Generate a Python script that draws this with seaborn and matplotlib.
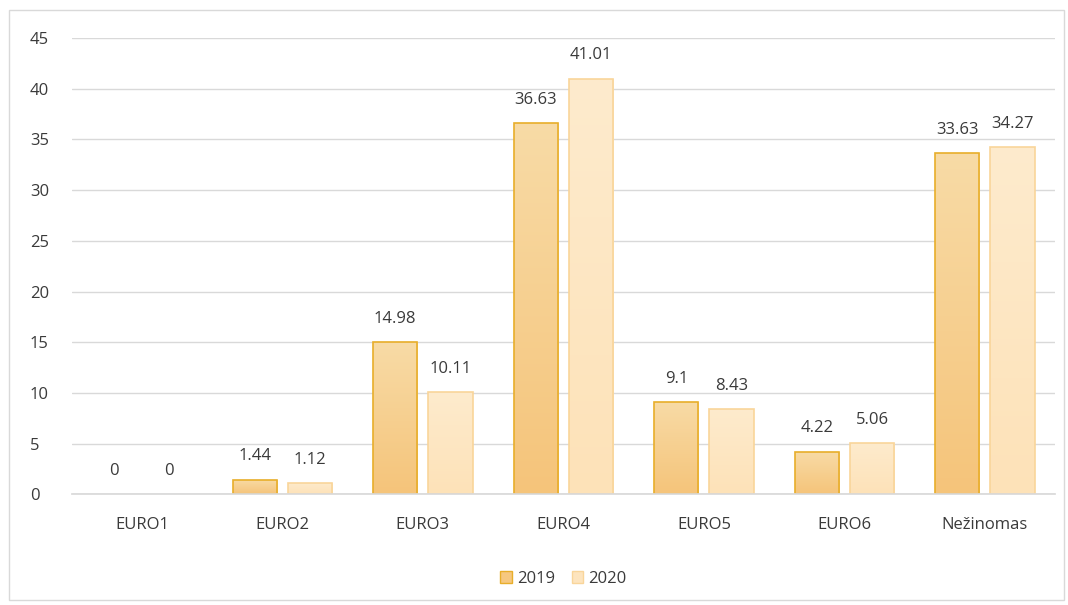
import numpy as np
import pandas as pd
import seaborn as sns
import matplotlib.pyplot as plt
from matplotlib.colors import LinearSegmentedColormap
from matplotlib.patches import Rectangle

# Chart data
categories = ["EURO1", "EURO2", "EURO3", "EURO4", "EURO5", "EURO6", "Nežinomas"]
years = ["2019", "2020"]
values_2019 = [0, 1.44, 14.98, 36.63, 9.1, 4.22, 33.63]
values_2020 = [0, 1.12, 10.11, 41.01, 8.43, 5.06, 34.27]
yticks = list(range(0, 50, 5))

df = pd.DataFrame({
    "cat": categories * 2,
    "year": [years[0]] * len(categories) + [years[1]] * len(categories),
    "val": values_2019 + values_2020,
})

sns.set_theme(style="white")
plt.rcParams["font.family"] = ["Open Sans", "DejaVu Sans"]
text_col = "#3A3A3A"
fs = 12

fig = plt.figure(figsize=(10.68, 6.05), dpi=100)
ax = fig.add_axes([0.067, 0.183, 0.921, 0.754])

edge_cols = {"2019": "#E8AE2A", "2020": "#F9D59A"}
face_cols = {"2019": "#F6C880", "2020": "#FDE4BE"}
grads = {
    "2019": LinearSegmentedColormap.from_list("g19", ["#F5C47A", "#F8DBA6"]),
    "2020": LinearSegmentedColormap.from_list("g20", ["#FDE2B8", "#FEEBCD"]),
}

sns.barplot(data=df, x="cat", y="val", hue="year", palette=face_cols,
            width=0.786, gap=0.2, ax=ax, legend=True)

ax.set_ylim(0, 45)
ax.set_xlim(-0.5, len(categories) - 0.5)
ax.set_yticks(yticks)
ax.yaxis.grid(True, color="#D9D9D9", linewidth=1)
ax.set_axisbelow(True)
for s in ["top", "right", "left"]:
    ax.spines[s].set_visible(False)
ax.spines["bottom"].set_color("#D9D9D9")
ax.set_xlabel("")
ax.set_ylabel("")
ax.tick_params(axis="both", length=0, labelsize=fs, colors=text_col)
ax.tick_params(axis="x", pad=16)
ax.tick_params(axis="y", pad=30)
for lbl in ax.get_yticklabels():
    lbl.set_horizontalalignment("left")

# gradient fill and labels per container
grad = np.linspace(0, 1, 256).reshape(-1, 1)
for cont, yr in zip(ax.containers, years):
    for p in cont:
        p.set_edgecolor(edge_cols[yr])
        p.set_linewidth(1.2)
        h = p.get_height()
        if h > 0:
            x0, w = p.get_x(), p.get_width()
            im = ax.imshow(grad, cmap=grads[yr], aspect="auto", origin="lower",
                           extent=[x0, x0 + w, 0, h], zorder=p.get_zorder())
            im.set_clip_path(p)
            p.set_facecolor("none")
            p.set_zorder(p.get_zorder() + 0.1)
        else:
            p.set_linewidth(0)
    ax.bar_label(cont, labels=[f"{v:g}" for v in cont.datavalues],
                 padding=11, fontsize=fs, color=text_col)

ax.set_xlim(-0.5, len(categories) - 0.5)
ax.set_ylim(0, 45)

handles = [Rectangle((0, 0), 1, 1, facecolor=face_cols[y], edgecolor=edge_cols[y])
           for y in years]
ax.legend(handles, years, loc="upper center", bbox_to_anchor=(0.5, -0.135),
          ncol=2, frameon=False, fontsize=fs, handlelength=0.7, handleheight=0.7,
          handletextpad=0.3, columnspacing=1.0, labelcolor=text_col)

fig.patches.append(Rectangle((0.008, 0.008), 0.988, 0.975, transform=fig.transFigure,
                             fill=False, edgecolor="#D9D9D9", linewidth=1))

fig.savefig("out.png", dpi=100)
